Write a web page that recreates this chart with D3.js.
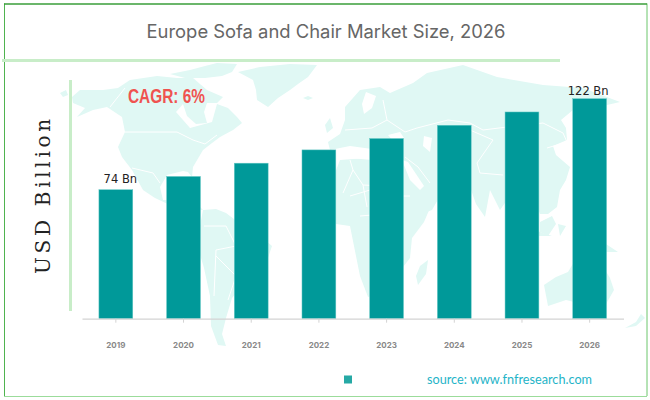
<!DOCTYPE html>
<html>
<head>
<meta charset="utf-8">
<script src="https://cdn.jsdelivr.net/npm/d3@7"></script>
<style>
    html, body { margin: 0; padding: 0; background: #fff; }
    svg { display: block; }
</style>
</head>
<body>
<div id="chart"></div>
<script>
const years = ["2019", "2020", "2021", "2022", "2023", "2024", "2025", "2026"];
const marketSize = [74, 81, 88, 95, 101, 108, 115, 122];
const barLabels = ["74 Bn", "", "", "", "", "", "", "122 Bn"];

// faint world map behind the bars, traced by hand in page pixels
const land = [
    // north america
    [[72,97],[80,90],[103,90],[118,88],[130,80],[157,76],[177,78],[193,78],[207,90],[223,97],[217,103],[207,103],[204,112],[207,123],[196,124],[187,116],[183,104],[176,112],[190,128],[212,122],[217,104],[228,108],[237,117],[242,123],[233,130],[220,137],[212,143],[203,150],[193,167],[192,177],[188,172],[183,171],[167,175],[160,187],[163,200],[172,200],[178,197],[198,205],[203,210],[190,208],[172,206],[155,198],[143,190],[132,170],[122,157],[118,147],[125,132],[122,117],[107,107],[93,110],[77,117],[85,108],[73,103]],
    // alaskan islands
    [[60,93],[66,90],[68,95],[63,97]],
    // arctic islands
    [[170,74],[190,70],[205,66],[217,63],[237,64],[232,72],[222,76],[205,78],[185,78]],
    // greenland
    [[238,72],[260,67],[290,64],[317,65],[308,77],[298,84],[290,90],[278,98],[268,107],[257,100],[256,90],[253,80]],
    // iceland
    [[303,98],[308,96],[313,98],[308,100]],
    // britain
    [[325,125],[330,118],[333,128],[327,133]],
    // south america
    [[203,210],[216,209],[226,213],[238,222],[256,232],[272,246],[268,258],[252,268],[244,284],[232,298],[226,318],[222,334],[226,346],[218,345],[211,326],[210,296],[204,268],[198,248],[200,226]],
    // eurasia
    [[330,150],[328,142],[340,134],[345,120],[345,107],[360,90],[380,87],[390,93],[413,83],[427,73],[463,65],[497,77],[543,85],[583,88],[620,102],[607,105],[573,110],[561,120],[566,128],[567,140],[553,146],[556,155],[570,167],[566,180],[560,190],[557,207],[548,214],[540,214],[535,200],[526,190],[510,190],[507,200],[500,210],[490,190],[485,217],[476,204],[470,187],[450,190],[440,196],[432,210],[418,215],[410,196],[404,180],[392,164],[374,150],[350,154]],
    // africa
    [[340,160],[366,158],[388,166],[402,172],[410,190],[420,208],[430,208],[424,222],[412,238],[410,258],[396,276],[382,292],[368,297],[360,276],[356,256],[350,226],[336,224],[326,212],[330,186]],
    // madagascar
    [[428,260],[426,274],[418,285],[416,276],[420,266]],
    // indonesia and papua
    [[526,226],[540,232],[552,236],[538,236],[524,232]],
    [[540,222],[552,216],[556,224],[548,236],[540,232]],
    [[558,224],[566,226],[560,236]],
    [[590,240],[606,244],[618,252],[604,252],[592,248]],
    // australia
    [[544,285],[556,277],[568,272],[574,262],[590,264],[600,262],[610,278],[614,290],[606,304],[596,312],[582,304],[566,300],[548,306]],
    // new zealand
    [[625,328],[636,322],[641,314],[645,318],[636,326]]
];

// inland seas cut back out of the land
const seas = [
    [[330,150],[350,146],[372,149],[385,156],[372,160],[350,158],[332,158]],
    [[388,135],[400,132],[404,138],[394,142]],
    [[424,136],[432,138],[430,152],[423,146]],
    [[366,92],[376,96],[372,108],[364,114],[362,104]],
    [[402,160],[408,162],[424,186],[420,190],[410,180]]
];

// country borders, white lines over the land
const borders = [
    [[125,132],[150,132],[177,132],[193,140],[205,144],[217,135]],
    [[132,168],[153,173],[160,183]],
    [[125,88],[110,107]],
    [[204,226],[226,226],[236,246],[216,250],[214,296]],
    [[216,256],[236,276],[228,300]],
    [[383,100],[387,120],[405,132],[417,128],[448,120],[470,123],[483,130],[507,127],[543,123],[563,133],[567,142],[547,148]],
    [[470,130],[493,140],[477,163],[480,173],[503,175]],
    [[405,157],[418,167],[430,183]],
    [[350,160],[353,170],[343,193]],
    [[353,170],[363,185],[367,207]],
    [[363,185],[403,187]],
    [[345,130],[372,128],[387,120]],
    [[350,196],[370,190],[396,196],[410,196]],
    [[360,216],[384,214],[400,230],[382,262],[372,270]]
];

const width = 650;
const height = 400;
const margin = { left: 82, right: 26.5, top: 98.7, bottom: 81.3 };

const svg = d3.select("#chart")
    .append("svg")
    .attr("width", width)
    .attr("height", height);

// Backdrop map
const outline = d3.line();
const map = svg.append("g");
map.selectAll(".land")
    .data(land)
    .enter()
    .append("path")
    .attr("class", "land")
    .attr("d", d => outline(d) + "Z")
    .attr("fill", "#e0f8f4");
map.selectAll(".sea")
    .data(seas)
    .enter()
    .append("path")
    .attr("class", "sea")
    .attr("d", d => outline(d) + "Z")
    .attr("fill", "#fff");
map.selectAll(".border")
    .data(borders)
    .enter()
    .append("path")
    .attr("class", "border")
    .attr("d", outline)
    .attr("fill", "none")
    .attr("stroke", "#fff")
    .attr("stroke-width", 1);

// Frame
svg.append("line").attr("x1", 4.5).attr("x2", 4.5).attr("y1", 3.5).attr("y2", 396)
    .attr("stroke", "#4fb34f").attr("stroke-width", 1);
svg.append("line").attr("x1", 647).attr("x2", 647).attr("y1", 3.5).attr("y2", 396)
    .attr("stroke", "#6cc66c").attr("stroke-width", 1);
svg.append("line").attr("x1", 4).attr("x2", 647).attr("y1", 4).attr("y2", 4)
    .attr("stroke", "#3a9e3a").attr("stroke-width", 1.4);
svg.append("line").attr("x1", 4).attr("x2", 647).attr("y1", 396.5).attr("y2", 396.5)
    .attr("stroke", "#9bdc9b").attr("stroke-width", 1);

// Header rule and the bar left of the plot
svg.append("line").attr("x1", 2).attr("x2", 560).attr("y1", 60.5).attr("y2", 60.5)
    .attr("stroke", "#c8edc8").attr("stroke-width", 3);
svg.append("line").attr("x1", 70.5).attr("x2", 70.5).attr("y1", 80).attr("y2", 311)
    .attr("stroke", "#c8edc8").attr("stroke-width", 3);

svg.append("text")
    .attr("x", 326)
    .attr("y", 38)
    .attr("text-anchor", "middle")
    .attr("font-family", "Inter, sans-serif")
    .attr("font-size", "18.4px")
    .attr("fill", "#666")
    .text("Europe Sofa and Chair Market Size, 2026");

const x = d3.scaleBand()
    .domain(years)
    .range([margin.left, width - margin.right])
    .paddingInner(0.5)
    .paddingOuter(0.25);

// baseline is not zero in the original, the bars are cut short
const y = d3.scaleLinear()
    .domain([6, 122])
    .range([height - margin.bottom, margin.top]);

svg.selectAll(".bar")
    .data(marketSize)
    .enter()
    .append("rect")
    .attr("class", "bar")
    .attr("x", (d, i) => x(years[i]))
    .attr("y", d => y(d))
    .attr("width", x.bandwidth())
    .attr("height", d => y.range()[0] - y(d))
    .attr("fill", "#009999")
    .attr("stroke", "#66c9c5")
    .attr("stroke-width", 0.5);

// the two labels sit a little off the bar centre in the original
svg.selectAll(".bar-label")
    .data(barLabels)
    .enter()
    .append("text")
    .attr("class", "bar-label")
    .attr("x", (d, i) => x(years[i]) + x.bandwidth() / 2 + (i === 0 ? 4.5 : -1.5))
    .attr("y", (d, i) => y(marketSize[i]) - (i === 0 ? 6.5 : 4))
    .attr("text-anchor", "middle")
    .attr("font-family", "'DejaVu Sans', sans-serif")
    .attr("font-size", "11.5px")
    .attr("fill", "#222")
    .text(d => d);

const axis = svg.append("g")
    .attr("transform", `translate(0,${height - margin.bottom})`)
    .call(d3.axisBottom(x).tickSize(4).tickPadding(20).tickSizeOuter(0));
axis.select(".domain").attr("stroke", "#d3d3d3").attr("stroke-width", 1.2);
axis.selectAll(".tick line").attr("stroke", "#d3d3d3");
axis.selectAll("text")
    .attr("font-family", "Inter, sans-serif")
    .attr("font-size", "8px")
    .attr("font-weight", "bold")
    .attr("fill", "#888");

svg.append("text")
    .attr("transform", "translate(50,274) rotate(-90)")
    .attr("font-family", "'DejaVu Serif', serif")
    .attr("font-size", "20px")
    .attr("letter-spacing", "3.7px")
    .attr("fill", "#222")
    .text("USD Billion");

svg.append("text")
    .attr("x", 128)
    .attr("y", 102.5)
    .attr("font-family", "'Liberation Sans', sans-serif")
    .attr("font-size", "21px")
    .attr("font-weight", "bold")
    .attr("textLength", 77)
    .attr("lengthAdjust", "spacingAndGlyphs")
    .attr("fill", "#ef5350")
    .text("CAGR: 6%");

// Legend swatch and source
svg.append("rect")
    .attr("x", 344)
    .attr("y", 375.5)
    .attr("width", 8)
    .attr("height", 8)
    .attr("fill", "#26a9a5");

svg.append("text")
    .attr("x", 427)
    .attr("y", 384)
    .attr("font-family", "Lato, sans-serif")
    .attr("font-size", "12.7px")
    .attr("fill", "#1fb4c8")
    .text("source: www.fnfresearch.com");
</script>
</body>
</html>
